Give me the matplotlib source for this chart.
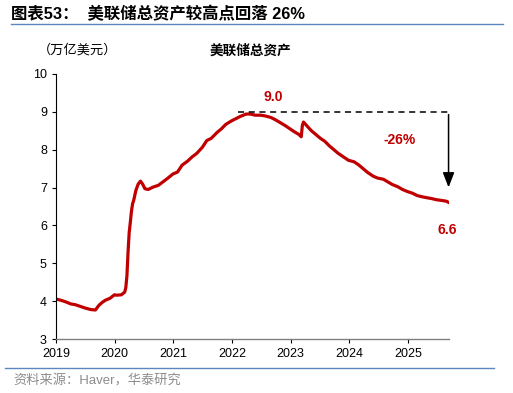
import pandas as pd
import matplotlib.pyplot as plt
import matplotlib.dates as mdates

plt.rcParams['font.family'] = ['Liberation Sans', 'Noto Sans CJK SC', 'DejaVu Sans']

# Fed total assets, trillion USD
dates = ['2019-01-02', '2019-02-06', '2019-03-06', '2019-04-03', '2019-05-01', '2019-06-05',
         '2019-07-03', '2019-08-07', '2019-09-04', '2019-09-25', '2019-10-16', '2019-11-06',
         '2019-12-04', '2019-12-31', '2020-01-15', '2020-02-12', '2020-03-04', '2020-03-11',
         '2020-03-18', '2020-03-25', '2020-04-01', '2020-04-08', '2020-04-15', '2020-04-22',
         '2020-04-29', '2020-05-13', '2020-05-27', '2020-06-10', '2020-06-24', '2020-07-08',
         '2020-07-29', '2020-08-26', '2020-09-30', '2020-10-28', '2020-11-25', '2020-12-30',
         '2021-01-27', '2021-02-24', '2021-03-31', '2021-04-28', '2021-05-26', '2021-06-30',
         '2021-07-28', '2021-08-25', '2021-09-29', '2021-10-27', '2021-11-24', '2021-12-29',
         '2022-01-26', '2022-02-23', '2022-03-30', '2022-04-27', '2022-05-25', '2022-06-29',
         '2022-07-27', '2022-08-31', '2022-09-28', '2022-10-26', '2022-11-30', '2022-12-28',
         '2023-01-25', '2023-02-22', '2023-03-08', '2023-03-15', '2023-03-22', '2023-04-12',
         '2023-05-10', '2023-06-07', '2023-07-05', '2023-08-02', '2023-08-30', '2023-09-27',
         '2023-10-25', '2023-11-29', '2023-12-27', '2024-01-31', '2024-02-28', '2024-03-27',
         '2024-04-24', '2024-05-29', '2024-06-26', '2024-07-31', '2024-08-28', '2024-09-25',
         '2024-10-30', '2024-11-27', '2024-12-25', '2025-01-29', '2025-02-26', '2025-03-26',
         '2025-04-30', '2025-05-28', '2025-06-25', '2025-07-30', '2025-08-27', '2025-09-10']
assets = [4.06, 4.02, 3.98, 3.93, 3.91, 3.86,
          3.82, 3.78, 3.77, 3.89, 3.97, 4.03,
          4.08, 4.17, 4.16, 4.17, 4.24, 4.36,
          4.67, 5.30, 5.81, 6.08, 6.37, 6.57,
          6.66, 6.93, 7.09, 7.17, 7.09, 6.97,
          6.95, 7.01, 7.06, 7.15, 7.24, 7.36,
          7.41, 7.59, 7.70, 7.81, 7.90, 8.06,
          8.24, 8.30, 8.45, 8.55, 8.67, 8.76,
          8.82, 8.88, 8.94, 8.94, 8.91, 8.91,
          8.89, 8.85, 8.79, 8.72, 8.63, 8.55,
          8.47, 8.40, 8.34, 8.64, 8.73, 8.63,
          8.50, 8.40, 8.30, 8.22, 8.10, 8.00,
          7.90, 7.80, 7.72, 7.68, 7.60, 7.50,
          7.40, 7.30, 7.25, 7.22, 7.15, 7.08,
          7.02, 6.95, 6.90, 6.85, 6.79, 6.76,
          6.73, 6.71, 6.68, 6.66, 6.64, 6.61]

peak_value = 9.0
last_value = 6.6
drop_label = '-26%'

x = pd.to_datetime(dates)
red = '#C00000'

fig = plt.figure(figsize=(5.13, 3.93), dpi=100)
ax = fig.add_axes([0.109, 0.137, 0.766, 0.675])
ax.plot(x, assets, color=red, lw=2.3)

peak_start = pd.Timestamp('2022-02-10')
end = x[-1]
ax.plot([peak_start, end], [peak_value, peak_value], color='black', lw=1.1, ls=(0, (4, 3)))
ax.annotate('', xy=(end, 6.93), xytext=(end, peak_value),
            arrowprops=dict(arrowstyle='-|>,head_width=0.35,head_length=0.9', color='black', lw=1.1))
ax.text(pd.Timestamp('2022-09-15'), 9.38, f'{peak_value:.1f}', color=red, fontsize=10,
        fontweight='bold', ha='center', va='center')
ax.text(pd.Timestamp('2024-11-10'), 8.26, drop_label, color=red, fontsize=10,
        fontweight='bold', ha='center', va='center')
ax.text(pd.Timestamp('2025-08-30'), 5.88, f'{last_value:.1f}', color=red, fontsize=10,
        fontweight='bold', ha='center', va='center')

ax.set_ylim(3, 10)
ax.set_xlim(pd.Timestamp('2019-01-01'), pd.Timestamp('2025-09-12'))
ax.xaxis.set_major_locator(mdates.YearLocator())
ax.xaxis.set_major_formatter(mdates.DateFormatter('%Y'))
ax.tick_params(labelsize=9, length=3, width=0.8, colors='black')
for s in ['top', 'right']:
    ax.spines[s].set_visible(False)
ax.spines['left'].set_color('black')
ax.spines['bottom'].set_color('#808080')
ax.spines['bottom'].set_linewidth(1.0)

fig.text(0.074, 0.872, '（万亿美元）', fontsize=9.5, ha='left', va='center')
fig.text(0.488, 0.872, '美联储总资产', fontsize=9.8, ha='center', va='center', fontweight='bold')

fig.text(0.022, 0.965, '图表53：  美联储总资产较高点回落 26%', fontsize=11.8, fontweight='bold',
         ha='left', va='center')
fig.add_artist(plt.Line2D([0.022, 0.98], [0.938, 0.938], color='#5B87C0', lw=1.0))
fig.add_artist(plt.Line2D([0.01, 0.962], [0.063, 0.063], color='#5B87C0', lw=1.0))
fig.text(0.026, 0.03, '资料来源：Haver，华泰研究', fontsize=9.5, color='#8C8C8C',
         ha='left', va='center')

fig.savefig('out.png', dpi=100)
